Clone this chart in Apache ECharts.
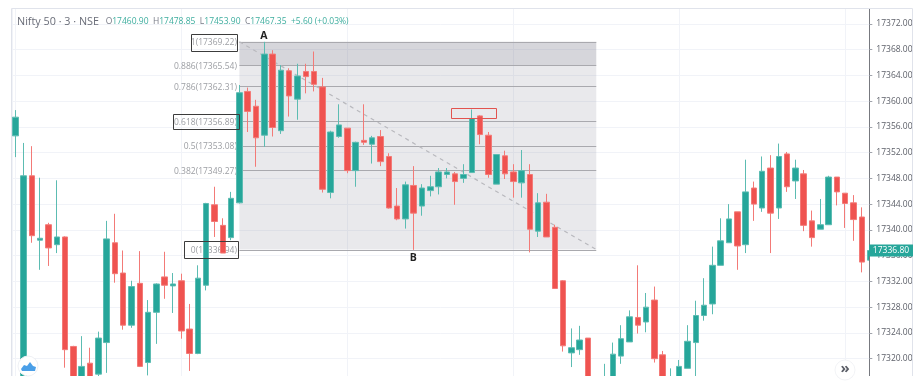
<!DOCTYPE html>
<html><head><meta charset="utf-8">
<script src="https://cdn.jsdelivr.net/npm/echarts@6/dist/echarts.min.js"></script>
<style>html,body{margin:0;padding:0;background:#fff}#c{width:922px;height:392px}</style>
</head><body><div id="c"></div>
<script>
const opens=[17354.6,17316,17348.4,17338.4,17340.8,17337.7,17338.9,17321.9,17315,17319.3,
17317.6,17322.5,17338.0,17333.3,17325.2,17331.7,17319.4,17327.2,17332.7,17331.3,
17332.1,17324.6,17320.8,17331.4,17343.9,17340.7,17338.8,17344.2,17361.5,17359.2,
17354.7,17367.3,17355.4,17364.7,17360.3,17364.6,17364.6,17362.2,17345.8,17354.5,
17355.8,17349.2,17353.9,17353.3,17354.5,17351.4,17343.7,17341.7,17346.9,17343.7,
17346.1,17346.7,17348.6,17348.7,17348.0,17348.9,17357.7,17354.7,17347.1,17351.5,
17349.0,17347.3,17348.6,17339.8,17344.3,17340.4,17332.1,17320.9,17321.4,17323.2,
17313,17314,17315,17320.4,17322.6,17326.4,17325.7,17329.1,17320.6,17315,
17315,17318.5,17322.5,17326.7,17328.5,17334.5,17338.0,17342.8,17337.7,17346.5,
17343.4,17349.6,17343.4,17351.8,17347.6,17348.7,17341.4,17340.1,17340.8,17348.2,
17345.7,17344.2,17342.0,17335.3];
const closes=[17357.5,17348.4,17339.1,17338.7,17337.2,17338.9,17321.4,17316,17318.8,17316,
17323.2,17338.6,17333.2,17325.2,17331.2,17318.8,17327.2,17331.6,17331.4,17331.6,
17324.3,17320.8,17332.5,17344.1,17341.3,17336.4,17344.9,17361.3,17358.4,17354.3,
17367.3,17355.9,17364.8,17360.8,17363.9,17363.8,17362.6,17346.3,17355.2,17356.3,
17349.2,17353.6,17353.6,17354.3,17350.6,17343.4,17341.7,17347.0,17342.6,17346.5,
17346.7,17349.0,17349.0,17347.5,17348.6,17357.3,17354.8,17348.6,17351.7,17348.7,
17347.5,17349.2,17340.1,17344.2,17338.9,17330.9,17322.0,17321.7,17322.9,17316,
17315,17316.5,17320.7,17323.1,17326.5,17325.2,17328.0,17320.0,17316,17316.8,
17318.8,17322.7,17326.7,17328.3,17334.5,17338.3,17341.7,17337.5,17345.9,17344.0,
17349.1,17342.6,17351.4,17346.7,17349.6,17340.7,17338.8,17340.8,17348.2,17345.9,
17344.1,17341.6,17335.0,17336.8];
const lows=[17351.3,17315,17338.0,17333.8,17334.4,17336.4,17318.6,17315,17314,17315,
17316.5,17317.8,17331.8,17324.5,17324.8,17318.7,17317.4,17322.3,17329.3,17327.1,
17323.1,17318.1,17320.7,17330.6,17338.9,17336.4,17338.4,17344.1,17355.2,17349.8,
17352.9,17354.5,17354.9,17357.6,17357.1,17361.2,17361.5,17345.8,17344.9,17354.3,
17348.8,17346.7,17353.2,17350.3,17349.9,17343.3,17341.5,17340.2,17336.9,17342.2,
17345.2,17345.5,17348.0,17343.9,17347.3,17348.9,17353.3,17348.1,17347.1,17347.9,
17345.0,17345.0,17336.5,17338.9,17338.9,17330.9,17321.1,17318.7,17320.6,17315,
17312,17313,17314,17319.2,17322.6,17323.9,17324.1,17319.4,17315,17314,
17314,17318.5,17317,17325.9,17326.9,17334.5,17338.0,17333.8,17336.4,17341.4,
17342.8,17336.4,17341.7,17345.9,17344.8,17339.8,17337.4,17340.1,17340.8,17343.8,
17340.3,17338.3,17333.4,17335.0];
const highs=[17358.6,17353.5,17353.0,17348.1,17341.1,17347.7,17339.0,17322.0,17323.5,17321.7,
17324.2,17341.4,17342.5,17336.8,17332.1,17336.7,17329.1,17331.7,17336.6,17333.3,
17333.2,17328.5,17334.5,17344.2,17346.7,17341.8,17345.9,17362.5,17362.1,17360.2,
17369.2,17367.9,17365.6,17365.1,17365.8,17365.8,17367.7,17363.6,17355.4,17359.5,
17355.8,17353.7,17359.5,17354.6,17355.5,17351.9,17346.5,17347.5,17349.9,17347.1,
17348.4,17349.6,17349.6,17349.0,17350.2,17358.7,17357.8,17355.2,17351.7,17352.3,
17350.2,17352.4,17350.2,17345.7,17345.6,17340.8,17332.2,17324.7,17325.1,17323.2,
17316,17319.2,17322.5,17325.2,17327.5,17334.5,17330.2,17331.2,17321.2,17318.5,
17319.8,17325.2,17329.0,17332.5,17337.4,17341.8,17344.0,17342.8,17350.9,17347.5,
17351.4,17351.6,17353.4,17352.1,17350.9,17349.3,17343.0,17344.8,17348.4,17348.2,
17345.7,17345.4,17343.5,17337.4];
const yTicks=[17320,17324,17328,17332,17336,17340,17344,17348,17352,17356,17360,17364,17368,17372];
const xGrid=[1,8,16,26,36,46,56,66,76,86,96];
const fibRatios=['1','0.886','0.786','0.618','0.5','0.382','0'];
const fibPrices=[17369.22,17365.54,17362.31,17356.89,17353.08,17349.27,17336.94];
const fibSpan=[27,70];
const boxes=[[21.2,26.8,17370.4,17367.8],[19.04,26.99,17358.0,17355.6],[20.36,26.87,17338.2,17335.5]];
const redBox=[52.46,57.88,17359.0,17357.4];
const pointLabels=['A','B'];
const pointX=[30,48];
const pointY=[17370.1,17335.7];
const lastPrice=17336.80;

const UP='#26a69a',DOWN='#ef5350',GRID='#f1f3f8',FONT='"Open Sans",sans-serif',SZ=8.5;
const candles=opens.map((o,i)=>[i,o,closes[i],lows[i],highs[i]]);
const chart=echarts.init(document.getElementById('c'),null,{renderer:'canvas'});

function fibItem(p,api){
  const i=p.dataIndex,x0=api.coord([fibSpan[0],17340])[0],x1=api.coord([fibSpan[1],17340])[0];
  const y=api.coord([30,fibPrices[i]])[1];
  const kids=[];
  if(i<fibPrices.length-1){
    const y2=api.coord([30,fibPrices[i+1]])[1];
    kids.push({type:'rect',shape:{x:x0,y:y,width:x1-x0,height:y2-y},style:{fill:i===0?'rgba(120,120,135,0.30)':'rgba(120,120,135,0.16)'}});
  }
  kids.push({type:'line',shape:{x1:x0,y1:Math.round(y)+.5,x2:x1,y2:Math.round(y)+.5},style:{stroke:'#a9a9ae',lineWidth:1}});
  kids.push({type:'text',style:{text:fibRatios[i]+'('+fibPrices[i].toFixed(2)+')',x:x0-2.5,y:y+1,align:'right',verticalAlign:'middle',fill:'#9c9ea3',font:SZ+'px '+FONT}});
  return {type:'group',children:kids};
}
function rectOf(b,api,stroke){
  const a=api.coord([b[0],b[2]]),c=api.coord([b[1],b[3]]);
  return {type:'rect',shape:{x:Math.round(a[0])+.5,y:Math.round(a[1])+.5,width:Math.round(c[0]-a[0]),height:Math.round(c[1]-a[1])},style:{fill:null,stroke:stroke,lineWidth:1}};
}
function noteItem(p,api){
  const kids=boxes.map(b=>rectOf(b,api,'#3c3c3c'));
  kids.push(rectOf(redBox,api,'#e2534f'));
  pointLabels.forEach((t,i)=>{
    const c=api.coord([pointX[i],pointY[i]]);
    kids.push({type:'text',style:{text:t,x:c[0]-.5,y:c[1],align:'center',verticalAlign:'middle',fill:'#222',font:'bold 10.5px '+FONT}});
  });
  const yy=api.coord([30,lastPrice])[1];
  kids.push({type:'rect',shape:{x:870,y:yy-12,width:5,height:24},style:{fill:'#fff'}});
  kids.push({type:'line',shape:{x1:869.5,y1:yy-12,x2:869.5,y2:yy+12},style:{stroke:'#77797f',lineWidth:1}});
  kids.push({type:'rect',shape:{x:869,y:yy-6,width:44,height:12},style:{fill:UP}});
  kids.push({type:'text',style:{text:lastPrice.toFixed(2),x:891,y:yy,align:'center',verticalAlign:'middle',fill:'#fff',font:SZ+'px '+FONT}});
  return {type:'group',children:kids};
}

chart.setOption({
  animation:false,
  title:{left:17,top:16,padding:0,text:'{n|Nifty 50 · 3 · NSE}{v|   }{l|O}{v|17460.90  }{l|H}{v|17478.85  }{l|L}{v|17453.90  }{l|C}{v|17467.35  +5.60 (+0.03%)}',
    textStyle:{fontWeight:'normal',fontSize:SZ,rich:{n:{fontFamily:FONT,fontWeight:'normal',fontSize:10.8,color:'#6a6d78'},l:{fontFamily:FONT,fontWeight:'normal',fontSize:SZ,color:'#787b86'},v:{fontFamily:FONT,fontWeight:'normal',fontSize:SZ,color:'#3fae9f'}}}},
  grid:{left:12,right:52.7,top:9,bottom:16},
  xAxis:{type:'value',min:-0.4,max:102.9,
    axisLine:{show:false},axisTick:{show:false},axisLabel:{show:false},
    splitLine:{show:true,customValues:xGrid,lineStyle:{color:GRID,width:1}}},
  yAxis:{type:'value',position:'right',min:17317.31,max:17374.30,scale:true,
    axisLine:{show:true,onZero:false,lineStyle:{color:'#77797f',width:1}},
    axisTick:{show:true,length:3,customValues:yTicks,lineStyle:{color:'#a0a3ab'}},
    axisLabel:{customValues:yTicks,margin:7,color:'#5c5f68',fontFamily:FONT,fontSize:SZ,formatter:v=>v.toFixed(2)},
    splitLine:{show:true,customValues:yTicks,lineStyle:{color:GRID,width:1}}},
  series:[
    {type:'custom',name:'fib',z:2,silent:true,renderItem:fibItem,data:fibPrices.map(p=>[fibSpan[0],p]),encode:{x:0,y:1}},
    {type:'line',name:'trend',z:3,silent:true,symbol:'none',data:[[fibSpan[0],fibPrices[0]],[fibSpan[1],fibPrices[6]]],
      lineStyle:{color:'#b9b9be',width:1.2,type:[4,4]}},
    {type:'candlestick',name:'Nifty 50',z:4,silent:true,barWidth:6,data:candles,encode:{x:0,y:[1,2,3,4]},
      itemStyle:{color:UP,color0:DOWN,borderColor:'#5cbcb2',borderColor0:'#f37a77',borderWidth:1}},
    {type:'custom',name:'notes',z:6,silent:true,renderItem:noteItem,data:[[0,17320]],encode:{x:0,y:1}}
  ],
  graphic:[
    {type:'polyline',z:1,silent:true,shape:{points:[[11.5,376],[11.5,8.5],[912.5,8.5],[912.5,376]]},style:{fill:null,stroke:'#e0e3eb',lineWidth:1}},
    {type:'rect',z:100,silent:true,shape:{x:0,y:376,width:922,height:16},style:{fill:'#fff'}},
    {type:'circle',z:101,silent:true,shape:{cx:28,cy:366,r:10},style:{fill:'#fff',stroke:'#eef0f4'}},
    {type:'polygon',z:102,silent:true,shape:{points:[[21,369],[24,365],[27,366],[30,362],[33,366],[36,367],[35,371],[22,371]]},style:{fill:'#4a9fe8'}},
    {type:'circle',z:101,silent:true,shape:{cx:845,cy:370,r:10},style:{fill:'#fff',stroke:'#f2f3f6'}},
    {type:'text',z:102,silent:true,style:{text:'»',x:845,y:369,align:'center',verticalAlign:'middle',fill:'#5c5f68',font:'bold 15px '+FONT}}
  ]
});
</script></body></html>
